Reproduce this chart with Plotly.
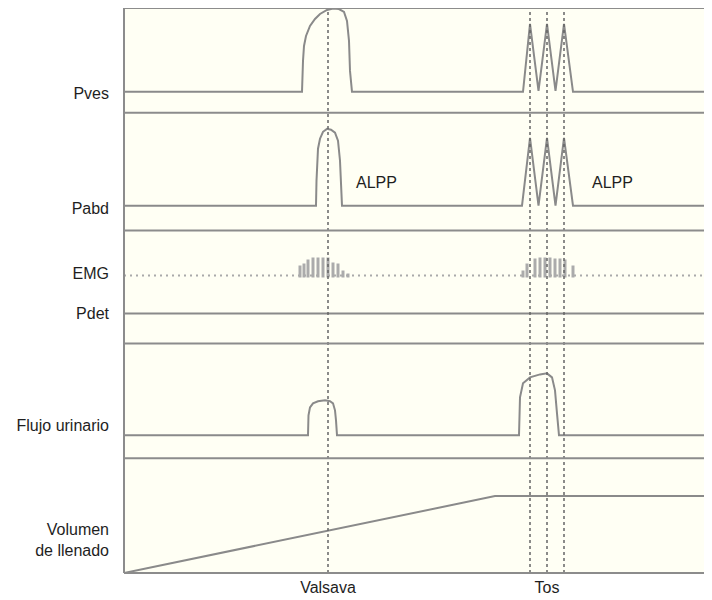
import plotly.graph_objects as go
from plotly.subplots import make_subplots

# ---------------- data (time in arbitrary units, signals in % of panel) ----------------
T_END = 117.6
pves_t = [0, 35.6, 35.8, 36.0, 36.4, 37.2, 38.2, 39.2, 40.6, 41.8, 43.0, 44.0, 44.6, 45.0, 45.2, 45.6,
          79.8, 81.2, 82.9, 84.6, 86.3, 88.0, 89.8, T_END]
pves_y = [20, 20, 49.5, 63.8, 73.3, 82.9, 89.5, 94.3, 98.1, 99.5, 99.0, 96.2, 87.6, 68.6, 40.0, 20,
          20, 84.8, 21.0, 84.8, 21.0, 84.8, 20, 20]

pabd_t = [0, 38.4, 38.5, 38.6, 38.8, 39.2, 39.8, 40.6, 41.4, 42.2, 42.8, 43.2, 43.4, 43.6,
          79.6, 81.2, 82.9, 84.6, 86.3, 88.0, 89.8, T_END]
pabd_y = [21.2, 21.2, 42.4, 59.3, 69.5, 78.0, 83.9, 86.4, 85.6, 83.1, 76.3, 59.3, 38.1, 21.2,
          21.2, 78.8, 21.2, 78.8, 21.2, 78.8, 21.2, 21.2]

emg_base = 60.2
emg_bar_bottom = 58.4
emg_bar_t = [35.2, 36.0, 36.8, 37.8, 38.8, 39.8, 40.8, 41.8, 42.8, 43.8, 44.8,
             79.8, 80.6, 82.2, 83.2, 84.2, 85.2, 86.2, 87.2, 88.2, 89.8]
emg_bar_top = [69.0, 70.8, 74.3, 76.1, 76.1, 76.1, 76.1, 71.7, 70.8, 64.6, 61.9,
               64.6, 70.8, 75.2, 76.1, 76.1, 76.1, 75.2, 75.2, 74.3, 69.0]

pdet_t = [0, T_END]
pdet_y = [26.5, 26.5]

flujo_t = [0, 36.8, 36.9, 37.2, 37.8, 38.8, 40.2, 41.2, 41.8, 42.2, 42.4, 42.6,
           79.0, 79.1, 79.2, 79.8, 81.2, 83.2, 84.6, 85.6, 86.2, 86.6, 87.0, T_END]
flujo_y = [20, 20, 37.4, 44.3, 47.8, 49.6, 50.4, 49.6, 47.8, 41.7, 33.0, 20,
           20, 37.4, 53.0, 65.2, 70.4, 73.0, 73.9, 70.4, 59.1, 39.1, 20, 20]

vol_t = [0, 74.2, T_END]
vol_y = [0, 67, 67]

event_t = [40.8, 81.2, 84.6, 88.0]
event_labels = ["Valsava", "Tos"]
event_label_t = [40.8, 84.6]

row_labels = [["Pves"], ["Pabd"], ["EMG", "Pdet"], ["Flujo urinario"], ["Volumen<br>de llenado"]]
row_label_y = [[18.1], [18.6], [61.9, 26.5], [28.7], [28.7]]

alpp_t = [50.4, 97.7]
alpp_y = [40.7, 40.7]

# ---------------- figure ----------------
LINE = "#8c8c8c"
TRACE = "#8a8a8a"
TXT = "#1e1e1e"
FONT = "Liberation Sans, Arial, sans-serif"

fig = make_subplots(rows=5, cols=1, shared_xaxes=True, vertical_spacing=0,
                    row_heights=[105, 118, 113, 115, 115])

fig.add_trace(go.Scatter(x=pves_t, y=pves_y, mode="lines",
                         line=dict(color=TRACE, width=2)), row=1, col=1)
fig.add_trace(go.Scatter(x=pabd_t, y=pabd_y, mode="lines",
                         line=dict(color=TRACE, width=2)), row=2, col=1)

# EMG dotted baseline
fig.add_trace(go.Scatter(x=[0, T_END], y=[emg_base, emg_base], mode="lines",
                         line=dict(color="#aaaaaa", width=2, dash="2px,4px")), row=3, col=1)
# EMG bursts as vertical bars
bx, by = [], []
for t, top in zip(emg_bar_t, emg_bar_top):
    bx += [t, t, None]
    by += [emg_bar_bottom, top, None]
fig.add_trace(go.Scatter(x=bx, y=by, mode="lines",
                         line=dict(color="#ababab", width=3)), row=3, col=1)
fig.add_trace(go.Scatter(x=pdet_t, y=pdet_y, mode="lines",
                         line=dict(color=TRACE, width=2)), row=3, col=1)

fig.add_trace(go.Scatter(x=flujo_t, y=flujo_y, mode="lines",
                         line=dict(color=TRACE, width=2)), row=4, col=1)
fig.add_trace(go.Scatter(x=vol_t, y=vol_y, mode="lines",
                         line=dict(color=TRACE, width=2)), row=5, col=1)

# ALPP labels
for t, y in zip(alpp_t, alpp_y):
    fig.add_annotation(x=t, y=y, xref="x2", yref="y2", text="ALPP", showarrow=False,
                       font=dict(size=16, color=TXT, family=FONT))

# event dashed lines
for t in event_t:
    fig.add_shape(type="line", xref="x5", yref="paper", x0=t, x1=t, y0=0, y1=1,
                  line=dict(color="#666666", width=1.5, dash="3px,3px"), layer="above")

# panel separators (at subplot domain boundaries) and left border
bounds = set()
for i in range(1, 6):
    key = "yaxis" if i == 1 else f"yaxis{i}"
    d = fig.layout[key].domain
    bounds.add(round(d[0], 6))
    bounds.add(round(d[1], 6))
for b in sorted(bounds):
    fig.add_shape(type="line", xref="paper", yref="paper", x0=0, x1=1, y0=b, y1=b,
                  line=dict(color=LINE, width=2), layer="above")
fig.add_shape(type="line", xref="paper", yref="paper", x0=0, x1=0, y0=0, y1=1,
              line=dict(color=LINE, width=2), layer="above")

for i in range(1, 6):
    fig.update_xaxes(row=i, col=1, range=[0, T_END], showline=False,
                     showgrid=False, zeroline=False, automargin=False,
                     showticklabels=False, ticks="")
    fig.update_yaxes(row=i, col=1, range=[0, 100], showline=False,
                     showgrid=False, zeroline=False, automargin=False,
                     tickvals=row_label_y[i - 1], ticktext=row_labels[i - 1], ticks="",
                     ticklabelstandoff=14,
                     tickfont=dict(size=16, color=TXT, family=FONT))

fig.update_xaxes(row=5, col=1, showticklabels=True, tickvals=event_label_t,
                 ticktext=event_labels, ticklabelstandoff=3,
                 tickfont=dict(size=16, color=TXT, family=FONT))

fig.update_layout(width=704, height=592, showlegend=False,
                  margin=dict(l=116, r=0, t=0, b=27),
                  paper_bgcolor="white", plot_bgcolor="#fffff4",
                  font=dict(family=FONT, color=TXT))

fig.write_html("out.html")
